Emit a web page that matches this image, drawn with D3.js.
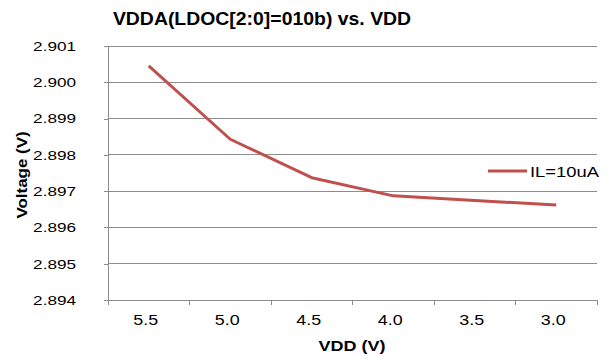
<!DOCTYPE html>
<html><head><meta charset="utf-8">
<script src="https://cdn.jsdelivr.net/npm/d3@7"></script>
<style>body{margin:0;background:#fff;}svg{display:block;font-family:"Liberation Sans",Arial,sans-serif;}</style>
</head><body><svg id="c" width="610" height="356"></svg>
<script>
const categories = ["5.5","5.0","4.5","4.0","3.5","3.0"];
const values = [2.90045, 2.89843, 2.89737, 2.89687, 2.89674, 2.89662];
const yTicks = [2.894,2.895,2.896,2.897,2.898,2.899,2.900,2.901];
const seriesName = "IL=10uA";
const title = "VDDA(LDOC[2:0]=010b) vs. VDD";
const xTitle = "VDD (V)", yTitle = "Voltage (V)";

const svg = d3.select("#c");
const L=108, R=597, T=46, B=300;
const x = d3.scaleBand().domain(categories).range([L,R]);
const y = d3.scaleLinear().domain([2.894,2.901]).range([B,T]);
const grid = "#8c8c8c";

function label(g, tx, ty, txt, size, anchor, sx, bold, rot) {
  return g.append("text")
    .attr("transform", `translate(${tx},${ty})` + (rot ? ` rotate(${rot})` : "") + ` scale(${sx},1)`)
    .attr("text-anchor", anchor).attr("font-size", size)
    .attr("font-weight", bold ? "bold" : "normal").attr("fill", "#000").text(txt);
}

svg.append("g").selectAll("line").data(yTicks).join("line")
  .attr("x1",L).attr("x2",R).attr("y1",d=>y(d)).attr("y2",d=>y(d))
  .attr("stroke",grid).attr("stroke-width",1).attr("shape-rendering","crispEdges");

const ya = svg.append("g").attr("transform",`translate(${L},0)`)
  .call(d3.axisLeft(y).tickValues(yTicks).tickFormat("").tickSize(4));
ya.select(".domain").attr("stroke",grid).attr("shape-rendering","crispEdges");
ya.selectAll(".tick line").attr("stroke",grid).attr("shape-rendering","crispEdges");
const fmt = d3.format(".3f");
yTicks.forEach(v => label(svg, 76, y(v) + 4.8, fmt(v), 13.5, "end", 1.27, false));

const xa = svg.append("g").attr("transform",`translate(0,${B})`)
  .call(d3.axisBottom(x).tickSize(0).tickFormat(""));
xa.select(".domain").attr("stroke",grid).attr("shape-rendering","crispEdges");
const bounds = categories.map(c=>x(c)).concat([R]);
svg.append("g").selectAll("line").data(bounds).join("line")
  .attr("x1",d=>d).attr("x2",d=>d).attr("y1",B).attr("y2",B+5)
  .attr("stroke",grid).attr("shape-rendering","crispEdges");
categories.forEach(c => label(svg, x(c)+x.bandwidth()/2 - 3, 325, c, 14, "middle", 1.28, false));

const line = d3.line().x((d,i)=>x(categories[i])+x.bandwidth()/2).y(d=>y(d));
svg.append("path").datum(values).attr("d",line).attr("fill","none")
  .attr("stroke","#C0504D").attr("stroke-width",3).attr("stroke-linejoin","round");

// legend
svg.append("line").attr("x1",488).attr("x2",527).attr("y1",171).attr("y2",171)
  .attr("stroke","#C0504D").attr("stroke-width",3);
label(svg, 530, 176.5, seriesName, 14.5, "start", 1.27, false);

label(svg, 262, 25, title, 18.5, "middle", 1.05, true);
label(svg, 352, 350.5, xTitle, 15, "middle", 1.2, true);
label(svg, 27, 175, yTitle, 15, "middle", 1.13, true, -90);
</script></body></html>
